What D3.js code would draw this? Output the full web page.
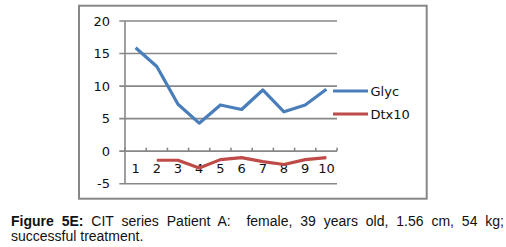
<!DOCTYPE html>
<html>
<head>
<meta charset="utf-8">
<script src="https://cdn.jsdelivr.net/npm/d3@7"></script>
<style>
  html, body { margin: 0; padding: 0; background: #fff; }
  #chart { position: absolute; left: 0; top: 0; }
  .caption {
    position: absolute; left: 11px; width: 493px; white-space: nowrap;
    font-family: "Liberation Sans", Arial, sans-serif; font-size: 14px; line-height: 15px;
    color: #111;
  }
  .caption.first { top: 213.5px; text-align: justify; text-align-last: justify; }
  .caption.second { top: 229px; }
  .tick-label { font-family: "DejaVu Sans", Verdana, sans-serif; font-size: 13px; fill: #111; }
</style>
</head>
<body>
<svg id="chart" width="506" height="210"></svg>
<div class="caption first"><b>Figure 5E:</b> CIT series Patient A:&nbsp; female, 39 years old, 1.56 cm, 54 kg;</div>
<div class="caption second">successful treatment.</div>
<script>
// data
const categories = ["1", "2", "3", "4", "5", "6", "7", "8", "9", "10"];
const glyc = [15.9, 13.0, 7.2, 4.3, 7.1, 6.4, 9.4, 6.05, 7.1, 9.5];
const dtx10 = [null, -1.4, -1.4, -2.6, -1.3, -1.0, -1.6, -2.05, -1.3, -1.0];
const yTicks = [20, 15, 10, 5, 0, -5];
const seriesNames = ["Glyc", "Dtx10"];
const colors = ["#4a7ebb", "#be4b48"];

const svg = d3.select("#chart");
const gridColor = "#878787";

// outer frame
svg.append("rect")
    .attr("x", 79).attr("y", 5.7).attr("width", 347.7).attr("height", 193)
    .attr("fill", "none").attr("stroke", gridColor).attr("stroke-width", 2);

const x = d3.scaleBand().domain(categories).range([125, 337]);
const y = d3.scaleLinear().domain([-5, 20]).range([183.7, 21]);

// horizontal gridlines + left ticks
svg.append("g").selectAll("line").data(yTicks).join("line")
    .attr("x1", 119.3).attr("x2", 337)
    .attr("y1", d => y(d)).attr("y2", d => y(d))
    .attr("stroke", gridColor).attr("stroke-width", 1.6);

// y axis line
svg.append("line")
    .attr("x1", x.range()[0]).attr("x2", x.range()[0])
    .attr("y1", y(20)).attr("y2", y(-5))
    .attr("stroke", gridColor).attr("stroke-width", 1.6);

// small ticks on the zero line between categories
svg.append("g").selectAll("line").data(d3.range(categories.length + 1)).join("line")
    .attr("x1", i => x.range()[0] + i * x.step()).attr("x2", i => x.range()[0] + i * x.step())
    .attr("y1", y(0)).attr("y2", y(0) - 3.5)
    .attr("stroke", gridColor).attr("stroke-width", 1.6);

svg.append("g").selectAll("text").data(yTicks).join("text")
    .attr("class", "tick-label")
    .attr("x", 110).attr("y", d => y(d)).attr("dy", "0.36em")
    .attr("text-anchor", "end")
    .text(d => d);

svg.append("g").selectAll("text").data(categories).join("text")
    .attr("class", "tick-label")
    .attr("x", d => x(d) + x.bandwidth() / 2).attr("y", 173)
    .attr("text-anchor", "middle")
    .text(d => d);

const line = d3.line()
    .defined(d => d.v != null)
    .x(d => x(d.c) + x.bandwidth() / 2)
    .y(d => y(d.v));

[glyc, dtx10].forEach((vals, i) => {
    svg.append("path")
        .datum(vals.map((v, j) => ({ c: categories[j], v })))
        .attr("d", line)
        .attr("fill", "none")
        .attr("stroke", colors[i])
        .attr("stroke-width", 3.2)
        .attr("stroke-linejoin", "round");
});

// legend
const legend = svg.append("g");
seriesNames.forEach((name, i) => {
    const ly = 91 + i * 23;
    legend.append("line")
        .attr("x1", 333).attr("x2", 368).attr("y1", ly).attr("y2", ly)
        .attr("stroke", colors[i]).attr("stroke-width", 3.2);
    legend.append("text")
        .attr("class", "tick-label")
        .attr("x", 370.5).attr("y", ly).attr("dy", "0.36em")
        .text(name);
});
</script>
</body>
</html>
